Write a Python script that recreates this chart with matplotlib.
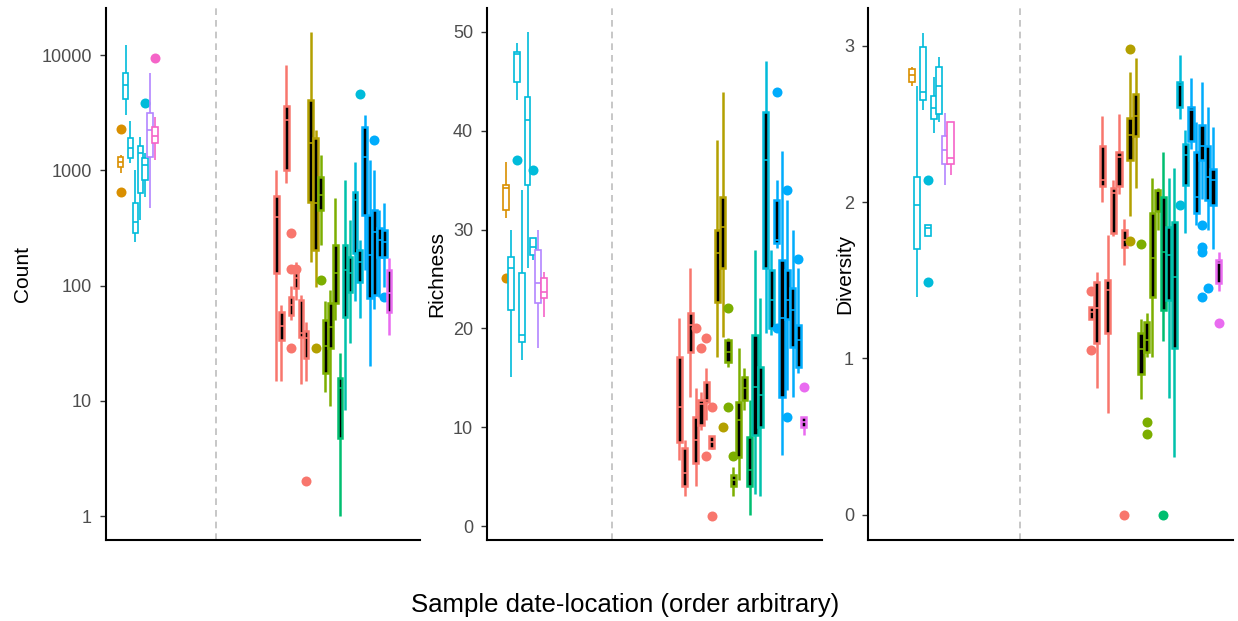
import matplotlib
matplotlib.use("Agg")
import matplotlib.pyplot as plt
from matplotlib.ticker import FixedLocator, FixedFormatter, NullLocator

plt.rcParams['font.family'] = ['Liberation Sans', 'DejaVu Sans']

# ---------------- data ----------------
# 32 samples per panel: first 8 = left group, next 24 = right group
left_colors = ['#D98F00'] + ['#00BBDA'] * 5 + ['#B385FF', '#F564C8']
right_colors = (['#F8766D'] * 7 + ['#B3A000'] * 2 + ['#7CAE00'] * 4 + ['#00BE70']
                + ['#00C1AB'] * 2 + ['#00BBDA'] * 2 + ['#00ACFC'] * 5 + ['#E96BF0'])

# Count
count_lo = [946, 3010, 1165, 238, 370, 587, 470, 1230,
            15, 15, 774, 50, 75, 14, 15, 160, 97, 225, 12, 9, 50, 1.0, 8.3, 32,
            74, 52, 136, 20, 62, 80, 97, 37]
count_q1 = [1066, 4130, 1277, 285, 630, 822, 1303, 1720,
            128, 34, 1000, 55, 95, 36, 23.5, 531, 204, 452, 17.4, 29, 71, 4.8, 53, 88,
            190, 107, 410, 78, 83, 177, 177, 59]
count_med = [1180, 5500, 1560, 356, 1410, 1110, 2230, 1980,
             393, 45, 2730, 68, 116, 39, 35, 1720, 520, 609, 30, 44, 128, 13, 136, 128,
             550, 160, 1300, 183, 290, 247, 240, 86]
count_q3 = [1303, 7020, 1905, 520, 1620, 1277, 3140, 2370,
            598, 59, 3600, 79, 142, 75, 40, 4070, 1905, 870, 50, 71, 225, 15.7, 225, 177,
            645, 204, 2370, 410, 452, 316, 304, 136]
count_hi = [1350, 12200, 2690, 1005, 1940, 1410, 7020, 2900,
            1000, 68, 8190, 100, 160, 83, 48, 15800, 2240, 1355, 74, 91, 575, 26, 822, 370,
            1175, 247, 3010, 1230, 1000, 452, 520, 174]
count_out = [[2280, 647], [], [], [], [], [3830], [], [9420],
             [], [], [], [285, 140, 29], [138], [], [2], [], [29], [112], [], [], [], [], [], [],
             [], [4570], [], [], [1830], [], [80], []]

# Richness
rich_lo = [31.2, 15.1, 43.1, 16.8, 26.1, 26.9, 18.0, 21.2,
           6.7, 3.1, 13.1, 4.1, 9.7, 10.7, 7.8, 17.1, 19.1, 16.1, 3.1, 4.7, 11.7, 1.1, 3.3, 3.1,
           19.5, 19.3, 28.1, 7.2, 13.8, 13.1, 15.5, 9.2]
rich_q1 = [32.0, 21.9, 44.9, 18.6, 34.5, 27.4, 22.6, 23.1,
           8.5, 4.1, 17.6, 6.4, 10.2, 12.6, 7.9, 22.7, 26.1, 16.6, 4.1, 7.0, 12.8, 4.1, 9.2, 10.0,
           26.1, 20.0, 28.6, 13.1, 20.9, 18.1, 16.1, 10.0]
rich_med = [34.2, 26.1, 47.7, 19.3, 41.1, 28.2, 24.6, 23.7,
            12.0, 5.4, 20.3, 8.7, 12.4, 12.8, 8.5, 27.6, 30.3, 17.6, 4.7, 10.7, 14.0, 5.7, 14.1, 13.3,
            37.0, 22.9, 28.9, 21.1, 22.9, 21.9, 18.8, 10.5]
rich_q3 = [34.5, 27.2, 48.0, 25.6, 43.4, 29.1, 27.9, 25.1,
           17.1, 7.9, 21.6, 11.0, 12.8, 14.6, 9.1, 30.0, 33.3, 18.8, 5.2, 12.6, 15.1, 9.0, 19.3, 16.1,
           41.9, 25.9, 33.0, 26.9, 25.9, 24.1, 20.3, 11.0]
rich_hi = [36.8, 30.0, 48.9, 34.0, 50.0, 29.1, 30.0, 25.7,
           21.1, 8.7, 26.1, 14.0, 13.6, 16.0, 9.1, 39.1, 43.9, 19.0, 6.0, 18.0, 16.0, 12.8, 27.9, 23.1,
           47.0, 27.9, 35.0, 37.9, 33.0, 30.0, 26.1, 11.0]
rich_out = [[25.1], [], [37.0], [], [], [36.0], [], [],
            [], [], [], [20.0], [18.0], [19.0, 7.1], [12.0, 1.0], [], [10.0], [22.1, 12.0], [7.1], [], [], [], [], [],
            [], [], [43.9, 20.0], [], [34.0, 11.0], [], [27.0], [14.1]]

# Diversity
div_lo = [2.74, 1.39, 2.59, 1.78, 2.44, 2.51, 2.11, 2.175,
          1.25, 0.81, 2.0, 0.65, 1.78, 2.05, 1.60, 1.91, 2.09, 0.74, 1.01, 1.01, 1.82, 1.11, 0.75, 0.37,
          2.53, 1.80, 2.34, 1.855, 2.02, 1.82, 1.70, 1.43]
div_q1 = [2.77, 1.70, 2.655, 1.78, 2.53, 2.56, 2.24, 2.24,
          1.25, 1.10, 2.10, 1.165, 1.80, 2.10, 1.71, 2.27, 2.42, 0.90, 1.04, 1.395, 1.94, 1.31, 1.375, 1.07,
          2.61, 2.11, 2.39, 1.93, 2.27, 2.015, 1.98, 1.48]
div_med = [2.815, 1.98, 2.70, 1.836, 2.60, 2.74, 2.335, 2.28,
           1.30, 1.325, 2.14, 1.44, 2.06, 2.29, 1.76, 2.43, 2.55, 1.06, 1.12, 1.64, 2.07, 1.68, 1.66, 1.52,
           2.75, 2.30, 2.59, 2.03, 2.355, 2.16, 2.14, 1.61]
div_q3 = [2.85, 2.16, 2.99, 1.855, 2.68, 2.86, 2.42, 2.51,
          1.33, 1.49, 2.36, 1.50, 2.09, 2.32, 1.82, 2.54, 2.69, 1.165, 1.235, 1.93, 2.08, 2.03, 1.84, 1.87,
          2.77, 2.37, 2.61, 2.32, 2.49, 2.355, 2.21, 1.63]
div_hi = [2.86, 2.74, 3.08, 1.855, 2.80, 2.93, 2.57, 2.51,
          1.33, 1.555, 2.55, 1.79, 2.14, 2.56, 1.89, 2.83, 2.92, 1.25, 1.29, 2.155, 2.09, 2.32, 2.155, 2.22,
          2.94, 2.46, 2.79, 2.51, 2.77, 2.61, 2.48, 1.68]
div_out = [[], [], [], [2.14, 1.49], [], [], [], [],
           [1.43, 1.056], [], [], [], [], [], [0.0], [2.98, 1.75], [], [1.73], [0.595, 0.52], [], [], [0.0], [], [],
           [1.98], [], [], [], [1.855, 1.715, 1.68, 1.39], [1.45], [], [1.23]]

# ---------------- layout ----------------
W, H = 1238, 621
fig = plt.figure(figsize=(W / 100, H / 100), dpi=100)

panels = [
    dict(px=(106, 420), ls=3.0, rs=34.8, dash=22.4, xmax=64.1, ylim=(0.62, 25600), ylabel='Count',
         labx=-0.2675,
         data=(count_lo, count_q1, count_med, count_q3, count_hi, count_out), log=True,
         ticks=[1, 10, 100, 1000, 10000], labels=['1', '10', '100', '1000', '10000']),
    dict(px=(487, 822), ls=3.5, rs=35.6, dash=23.1, xmax=62.0, ylim=(-1.4, 52.4), ylabel='Richness',
         labx=-0.149,
         data=(rich_lo, rich_q1, rich_med, rich_q3, rich_hi, rich_out), log=False,
         ticks=[0, 10, 20, 30, 40, 50], labels=['0', '10', '20', '30', '40', '50']),
    dict(px=(868, 1233), ls=7.9, rs=40.3, dash=27.4, xmax=65.9, ylim=(-0.16, 3.24), ylabel='Diversity',
         labx=-0.063,
         data=(div_lo, div_q1, div_med, div_q3, div_hi, div_out), log=False,
         ticks=[0, 1, 2, 3], labels=['0', '1', '2', '3']),
]

top_px, bot_px = 8, 540
for p in panels:
    l, r = p['px']
    ax = fig.add_axes([l / W, (H - bot_px) / H, (r - l) / W, (bot_px - top_px) / H])
    lo, q1, med, q3, hi, out = p['data']
    colors = left_colors + right_colors
    for i in range(32):
        if i < 8:
            pos = p['ls'] + i
            face, wid, lw = 'white', 1.1, 1.2
        else:
            pos = p['rs'] + (i - 8)
            face, wid, lw = 'black', 0.95, 1.8
        c = colors[i]
        st = [dict(med=med[i], q1=q1[i], q3=q3[i], whislo=lo[i], whishi=hi[i], fliers=out[i])]
        z = 2 + i * 0.01
        ax.bxp(st, positions=[pos], widths=wid, patch_artist=True, showcaps=False,
               manage_ticks=False,
               boxprops=dict(facecolor=face, edgecolor=c, linewidth=lw, zorder=z + 0.002),
               whiskerprops=dict(color=c, linewidth=lw, zorder=z, solid_capstyle='butt'),
               medianprops=dict(color=c, linewidth=1.2, zorder=z + 0.004, solid_capstyle='butt'),
               flierprops=dict(marker='o', markerfacecolor=c, markeredgecolor='none',
                               markersize=7.2, zorder=z + 0.006))
    ax.axvline(p['dash'], color='#BEBEBE', lw=1.2, ls=(0, (4, 3)), zorder=1)
    if p['log']:
        ax.set_yscale('log')
    ax.set_ylim(*p['ylim'])
    ax.set_xlim(0, p['xmax'])
    ax.yaxis.set_major_locator(FixedLocator(p['ticks']))
    ax.yaxis.set_major_formatter(FixedFormatter(p['labels']))
    ax.yaxis.set_minor_locator(NullLocator())
    ax.xaxis.set_major_locator(NullLocator())
    ax.xaxis.set_minor_locator(NullLocator())
    for s in ['top', 'right']:
        ax.spines[s].set_visible(False)
    for s in ['left', 'bottom']:
        ax.spines[s].set_linewidth(1.5)
        ax.spines[s].set_color('black')
    ax.tick_params(axis='y', length=4, width=1.0, color='#333333', labelsize=13,
                   labelcolor='#4D4D4D', pad=6)
    ax.set_ylabel(p['ylabel'], fontsize=15, color='black', va='center')
    ax.yaxis.set_label_coords(p['labx'], 0.5)
    ax.patch.set_alpha(0)

fig.text(625 / W, 1 - 605 / H, 'Sample date-location (order arbitrary)', ha='center', va='center',
         fontsize=18.5, color='black')

fig.savefig('out.png', dpi=100, facecolor='white')
